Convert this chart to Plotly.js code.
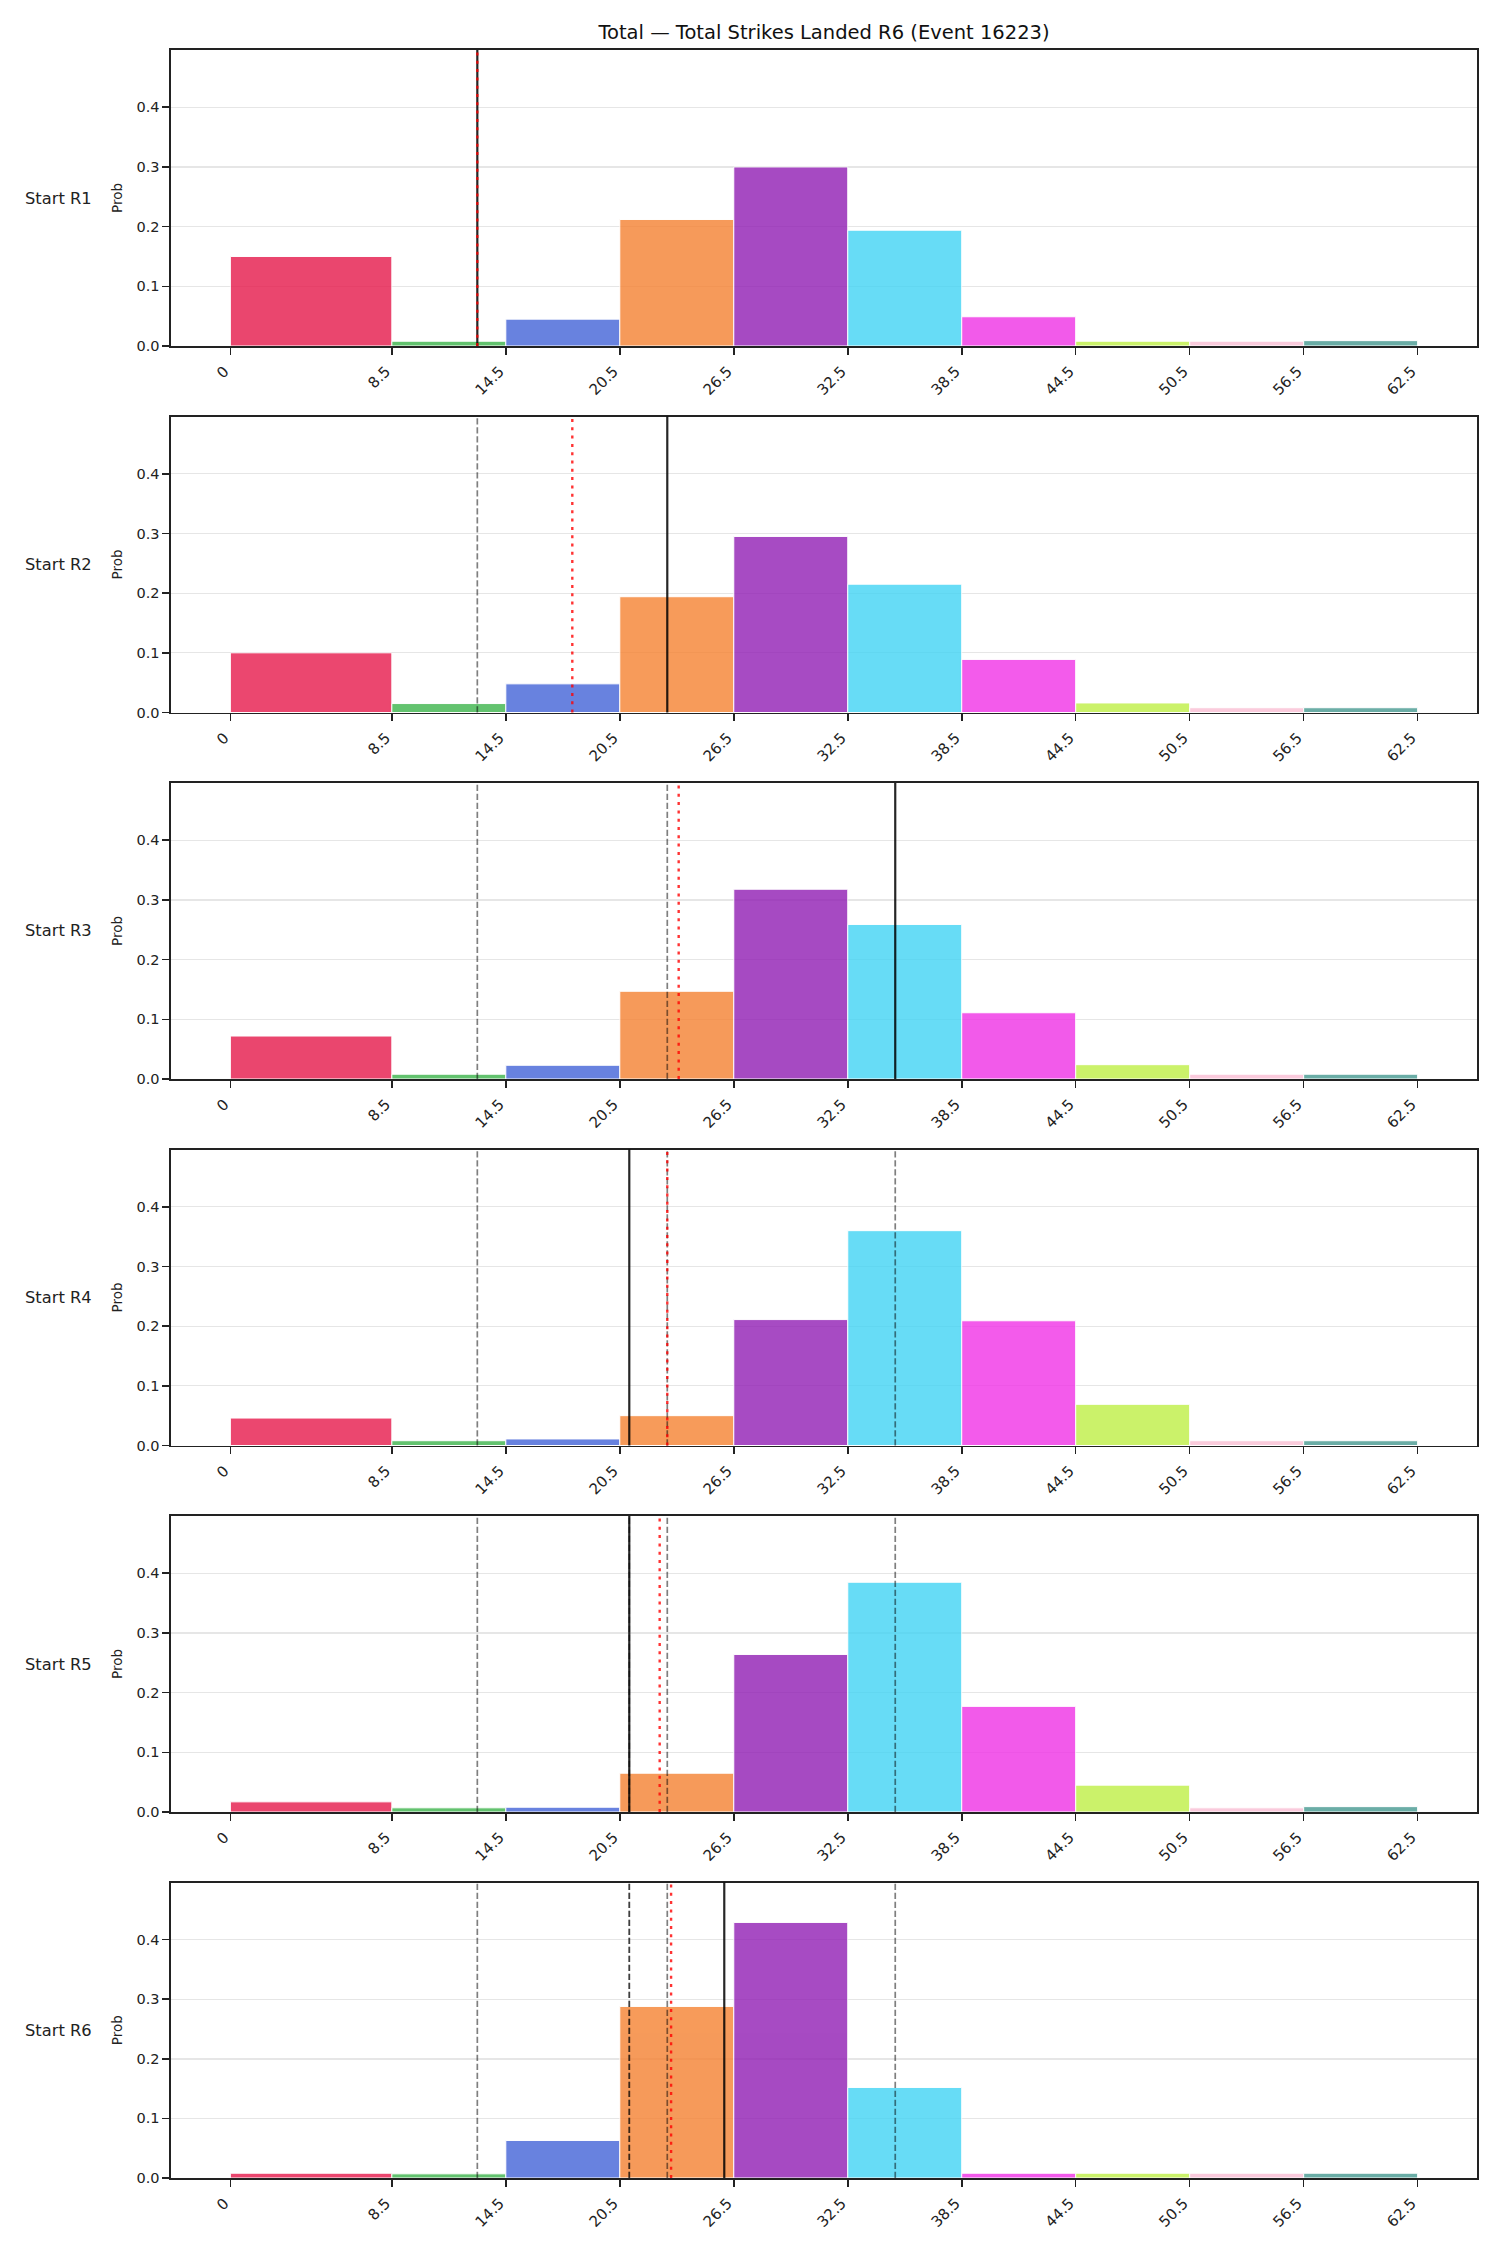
<!DOCTYPE html>
<html>
<head>
<meta charset="utf-8">
<script src="https://cdn.plot.ly/plotly-3.0.1.min.js"></script>
<style>
  html, body { margin: 0; padding: 0; background: #fff; }
  #chart { width: 1500px; height: 2250px; }
</style>
</head>
<body>
<div id="chart"></div>
<script>
// Bin edges of the strike-count histogram and their tick labels
const binEdges = [0, 8.5, 14.5, 20.5, 26.5, 32.5, 38.5, 44.5, 50.5, 56.5, 62.5];
const tickLabels = ['0', '8.5', '14.5', '20.5', '26.5', '32.5', '38.5', '44.5', '50.5', '56.5', '62.5'];
const roundLabels = ['Start R1', 'Start R2', 'Start R3', 'Start R4', 'Start R5', 'Start R6'];

// Probability of each bin at the start of every round
const probR1 = [0.150, 0.008, 0.045, 0.212, 0.300, 0.194, 0.049, 0.008, 0.008, 0.009];
const probR2 = [0.100, 0.015, 0.048, 0.194, 0.295, 0.215, 0.089, 0.016, 0.008, 0.008];
const probR3 = [0.072, 0.008, 0.023, 0.147, 0.318, 0.259, 0.111, 0.024, 0.008, 0.008];
const probR4 = [0.046, 0.008, 0.011, 0.050, 0.211, 0.360, 0.209, 0.069, 0.008, 0.008];
const probR5 = [0.017, 0.007, 0.008, 0.065, 0.264, 0.385, 0.177, 0.045, 0.007, 0.009];
const probR6 = [0.008, 0.007, 0.063, 0.288, 0.429, 0.152, 0.008, 0.008, 0.008, 0.008];
const roundProbs = [probR1, probR2, probR3, probR4, probR5, probR6];

// Reference totals per round: solid black marker and red dotted line
const markTotals = [13, 23, 35, 21, 21, 26];
const lineTotals = [13, 18, 23.6, 23, 22.6, 23.2];

const binColors = ['#e6194b', '#3cb44b', '#4363d8', '#f58231', '#911eb4',
                   '#42d4f4', '#f032e6', '#bfef45', '#fabed4', '#469990'];

const FONT = 'DejaVu Sans, Liberation Sans, sans-serif';
const INK = '#222222';

const W = 1500, H = 2250;
const M = { l: 171, r: 23, t: 50, b: 72 };
const plotH = H - M.t - M.b;
const panelH = 296, panelStep = 366.5;

const centers = [], widths = [];
for (let k = 0; k < binEdges.length - 1; k++) {
  centers.push((binEdges[k] + binEdges[k + 1]) / 2);
  widths.push(binEdges[k + 1] - binEdges[k]);
}

const data = [];
const layout = {
  width: W, height: H,
  margin: M,
  paper_bgcolor: '#ffffff',
  plot_bgcolor: '#ffffff',
  showlegend: false,
  font: { family: FONT, color: INK, size: 14 },
  title: {
    text: 'Total — Total Strikes Landed R6 (Event 16223)',
    x: 0.5, xref: 'paper', xanchor: 'center',
    y: 1 - 32 / H, yref: 'container', yanchor: 'middle',
    font: { family: FONT, size: 19.5, color: '#111' }
  },
  shapes: [],
  annotations: []
};

roundProbs.forEach((probs, i) => {
  const n = i + 1;
  const xa = 'xaxis' + (n === 1 ? '' : n);
  const ya = 'yaxis' + (n === 1 ? '' : n);
  const xr = 'x' + (n === 1 ? '' : n);
  const yr = 'y' + (n === 1 ? '' : n);

  const topPx = i * panelStep;
  const botPx = topPx + panelH;
  const dom = [1 - botPx / plotH, 1 - topPx / plotH];

  data.push({
    type: 'bar',
    x: centers,
    width: widths,
    y: probs,
    xaxis: xr, yaxis: yr,
    marker: { color: binColors, opacity: 0.8, line: { color: '#ffffff', width: 1 } },
    hoverinfo: 'x+y'
  });

  layout[xa] = {
    domain: [0, 1],
    anchor: yr,
    range: [-3.125, 65.625],
    tickmode: 'array',
    tickvals: binEdges,
    ticktext: tickLabels,
    tickangle: -45,
    ticklabelshift: -6,
    ticklabelstandoff: 2,
    ticks: 'outside', ticklen: 7, tickwidth: 1.6, tickcolor: INK,
    tickfont: { family: FONT, size: 15, color: INK },
    showline: true, linecolor: INK, linewidth: 1.6, mirror: true,
    showgrid: false, zeroline: false
  };
  layout[ya] = {
    domain: dom,
    anchor: xr,
    range: [0, 0.496],
    tickmode: 'array',
    tickvals: [0, 0.1, 0.2, 0.3, 0.4],
    ticktext: ['0.0', '0.1', '0.2', '0.3', '0.4'],
    ticks: 'outside', ticklen: 7, tickwidth: 1.6, tickcolor: INK,
    ticklabelstandoff: 2.5,
    tickfont: { family: FONT, size: 14.5, color: INK },
    showline: true, linecolor: INK, linewidth: 1.6, mirror: true,
    showgrid: true, gridcolor: '#e6e6e6', gridwidth: 1.3,
    zeroline: false,
    title: { text: 'Prob', font: { family: FONT, size: 13.5, color: INK }, standoff: 10.5 }
  };

  // Earlier rounds' marks as faint dashed lines
  for (let j = 0; j < i; j++) {
    layout.shapes.push({
      type: 'line', xref: xr, yref: yr + ' domain',
      x0: markTotals[j], x1: markTotals[j], y0: 0, y1: 1,
      line: { color: 'rgba(0,0,0,0.5)', width: 1.7, dash: '6.3px,2.7px' }
    });
  }
  // This round's mark
  layout.shapes.push({
    type: 'line', xref: xr, yref: yr + ' domain',
    x0: markTotals[i], x1: markTotals[i], y0: 0, y1: 1,
    line: { color: 'rgba(0,0,0,0.85)', width: 2.2 }
  });
  // Line total
  layout.shapes.push({
    type: 'line', xref: xr, yref: yr + ' domain',
    x0: lineTotals[i], x1: lineTotals[i], y0: 0, y1: 1,
    line: { color: 'rgba(255,0,0,0.8)', width: 2.4, dash: '3px,5.3px' }
  });

  layout.annotations.push({
    text: roundLabels[i],
    xref: 'paper', yref: 'paper',
    x: (23 - M.l) / (W - M.l - M.r), xanchor: 'left',
    y: (dom[0] + dom[1]) / 2, yanchor: 'middle',
    showarrow: false,
    font: { family: FONT, size: 16.3, color: INK }
  });
});

Plotly.newPlot('chart', data, layout, { staticPlot: true, displayModeBar: false });
</script>
</body>
</html>
